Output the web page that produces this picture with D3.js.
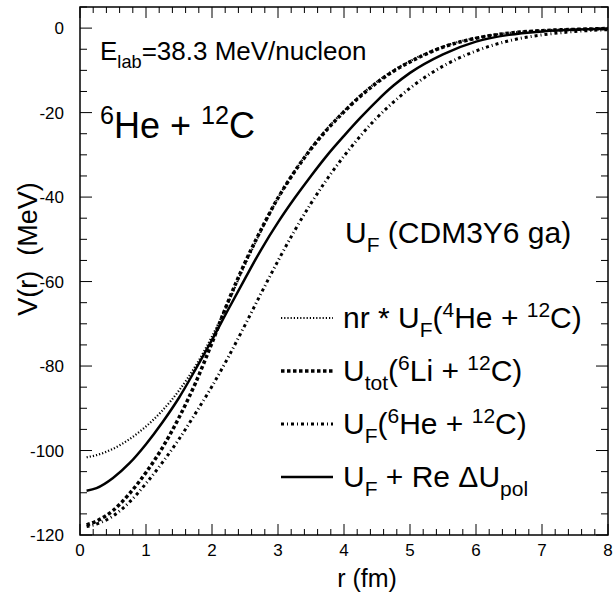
<!DOCTYPE html>
<html><head><meta charset="utf-8">
<script src="https://cdn.jsdelivr.net/npm/d3@7"></script>
<style>body{margin:0;background:#fff}svg{display:block}text{font-family:"Liberation Sans",Arial,sans-serif;fill:#000}</style>
</head><body><svg id="c" width="614" height="601"></svg>
<script>
// ---- data ----
const rValues = [0.1,0.25,0.5,0.75,1,1.25,1.5,1.75,2,2.25,2.5,2.75,3,3.25,3.5,3.75,4,4.25,4.5,4.75,5,5.5,6,6.5,7,7.5,8];
const nrU4He = [-101.6,-101.1,-99.6,-97.3,-94.3,-90.5,-85.8,-80,-73,-64.8,-56,-47.8,-40.2,-33.9,-28.4,-23.7,-19.6,-15.9,-12.7,-10,-7.8,-4.4,-2.3,-1.15,-0.55,-0.25,-0.1];
const uTot6Li = [-117.6,-116.7,-114.2,-110.2,-105.2,-99.3,-92.2,-84,-74.5,-64.5,-55.5,-47.5,-40.2,-34,-28.6,-23.9,-19.8,-16.1,-12.9,-10.2,-8,-4.5,-2.4,-1.2,-0.6,-0.3,-0.1];
const uF6He = [-118,-117.4,-115.5,-112.2,-107.8,-102.8,-97.3,-91.2,-84.8,-77.8,-70.3,-62.6,-55.1,-48,-41.5,-35.6,-30.3,-25.5,-21.2,-17.5,-14.2,-9,-5.4,-3.0,-1.6,-0.8,-0.35];
const uPol = [-109.5,-108.9,-106.5,-103,-98.5,-93.3,-87.5,-80.8,-73.8,-66.5,-59.3,-52.3,-46,-40.3,-35,-30,-25.5,-21.2,-17.2,-13.6,-10.6,-6.2,-3.2,-1.6,-0.8,-0.35,-0.15];
const xTicks = [0,1,2,3,4,5,6,7,8];
const yTicks = [0,-20,-40,-60,-80,-100,-120];

const svg = d3.select('#c');
const L=80,R=608,T=7,B=535;
const x = d3.scaleLinear().domain([0,8]).range([L,R]);
const y = d3.scaleLinear().domain([-120,5]).range([B,T]);

// frame
svg.append('rect').attr('x',L).attr('y',T).attr('width',R-L).attr('height',B-T)
  .attr('fill','none').attr('stroke','#000').attr('stroke-width',1.5);

// ticks
const xMinor = d3.range(0,8.001,0.2);
const yMinor = d3.range(-120,5.001,5);
const tg = svg.append('g').attr('stroke','#000').attr('stroke-width',1);
xMinor.forEach(v=>{
  const major = Math.abs(v-Math.round(v))<1e-6;
  const len = major?11:6;
  tg.append('line').attr('x1',x(v)).attr('x2',x(v)).attr('y1',B).attr('y2',B-len);
  tg.append('line').attr('x1',x(v)).attr('x2',x(v)).attr('y1',T).attr('y2',T+len);
});
yMinor.forEach(v=>{
  const major = Math.abs(v%20)<1e-6;
  const len = major?12:7;
  tg.append('line').attr('y1',y(v)).attr('y2',y(v)).attr('x1',L).attr('x2',L+len);
  tg.append('line').attr('y1',y(v)).attr('y2',y(v)).attr('x1',R).attr('x2',R-len);
});

// tick labels
svg.append('g').selectAll('text').data(xTicks).join('text')
  .attr('x',d=>x(d)).attr('y',556).attr('text-anchor','middle').attr('font-size',17).text(d=>d);
svg.append('g').selectAll('text').data(yTicks).join('text')
  .attr('x',64).attr('y',d=>y(d)+6).attr('text-anchor','end').attr('font-size',17).text(d=>d);

// axis titles
svg.append('text').attr('x',367).attr('y',587).attr('text-anchor','middle').attr('font-size',25).text('r (fm)');
svg.append('text').attr('transform','translate(37,249) rotate(-90)').attr('text-anchor','middle')
  .attr('font-size',27).attr('xml:space','preserve').text('V(r)  (MeV)');

// rich text helper
function rich(xp,yp,size,parts){
  const t = svg.append('text').attr('x',xp).attr('y',yp).attr('font-size',size).attr('xml:space','preserve');
  let cur = 0;
  parts.forEach(p=>{
    const [s,k] = p;
    let target = 0, fs = size;
    if(k==='sub'){target = size*0.3; fs=size*0.7;}
    else if(k==='sup'){target = -size*0.38; fs=size*0.7;}
    t.append('tspan').attr('dy',target-cur).attr('font-size',fs).text(s);
    cur = target;
  });
  return t;
}

rich(100,60,26,[['E'],['lab','sub'],['=38.3 MeV/nucleon']]);
rich(100,138,36,[['6','sup'],['He + '],['12','sup'],['C']]);
rich(345,243,30,[['U'],['F','sub'],[' (CDM3Y6 ga)']]);

// curves
const line = d3.line().x((d,i)=>x(rValues[i])).y(d=>y(d)).curve(d3.curveMonotoneX);
const series = [
  {v:nrU4He, w:2.2, dash:'1.2,2', ly:318, label:[['nr * U'],['F','sub'],['('],['4','sup'],['He + '],['12','sup'],['C)']]},
  {v:uTot6Li, w:3.5, dash:'3.5,2.5', ly:371, label:[['U'],['tot','sub'],['('],['6','sup'],['Li + '],['12','sup'],['C)']]},
  {v:uF6He, w:3, dash:'3,3,1,3', ly:424, label:[['U'],['F','sub'],['('],['6','sup'],['He + '],['12','sup'],['C)']]},
  {v:uPol, w:2.5, dash:null, ly:477, label:[['U'],['F','sub'],[' + Re ΔU'],['pol','sub']]}
];
const cg = svg.append('g').attr('fill','none').attr('stroke','#000');
series.forEach(s=>{
  const p = cg.append('path').datum(s.v).attr('d',line).attr('stroke-width',s.w);
  if(s.dash) p.attr('stroke-dasharray',s.dash);
  const l = cg.append('line').attr('x1',281).attr('x2',333).attr('y1',s.ly).attr('y2',s.ly).attr('stroke-width',s.w);
  if(s.dash) l.attr('stroke-dasharray',s.dash);
  rich(343,s.ly+10,30,s.label);
});
</script></body></html>
